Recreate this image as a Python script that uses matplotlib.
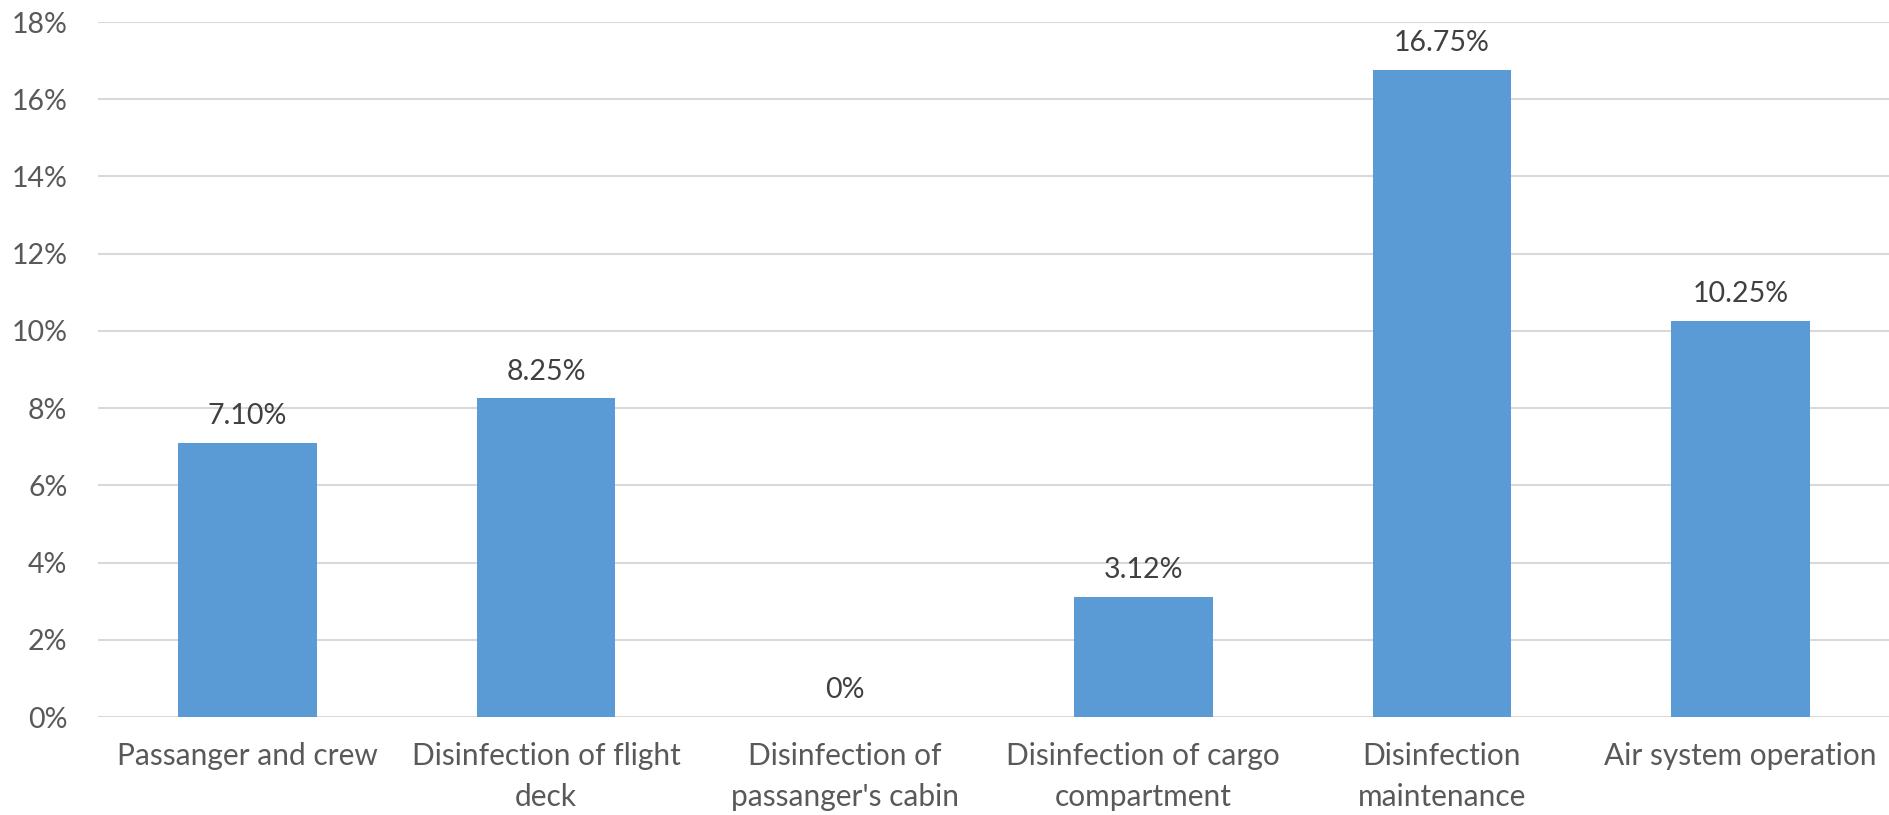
import matplotlib.pyplot as plt
import numpy as np

categories = [
    "Passanger and crew",
    "Disinfection of flight\ndeck",
    "Disinfection of\npassanger's cabin",
    "Disinfection of cargo\ncompartment",
    "Disinfection\nmaintenance",
    "Air system operation",
]
values = [7.10, 8.25, 0.0, 3.12, 16.75, 10.25]
yticks = np.arange(0, 19, 2)

plt.rcParams['font.family'] = ['Lato', 'DejaVu Sans']

fig = plt.figure(figsize=(18.9, 8.15), dpi=100)
ax = fig.add_axes([98 / 1890, 1 - 717 / 815, 1 - 98 / 1890, (717 - 22) / 815])

x = np.arange(len(categories))
bars = ax.bar(x, values, width=0.465, color='#5b9bd5', zorder=2)

for b, v in zip(bars, values):
    label = "0%" if v == 0 else f"{v:.2f}%"
    ax.annotate(label, (b.get_x() + b.get_width() / 2, v), xytext=(0, 10),
                textcoords='offset points', ha='center', va='bottom',
                fontsize=20.5, color='#404040')

ax.set_xlim(-0.5, len(categories) - 0.5)
ax.set_ylim(0, 18)
ax.set_yticks(yticks)
ax.set_yticklabels([f"{t}%" for t in yticks])
ax.set_xticks(x)
ax.set_xticklabels(categories, linespacing=1.55)
ax.tick_params(axis='y', length=0, pad=22, labelsize=20.5, labelcolor='#595959')
ax.tick_params(axis='x', length=0, pad=18, labelsize=21.5, labelcolor='#595959')

ax.grid(axis='y', color='#d9d9d9', linewidth=1.5, zorder=0)
for s in ax.spines.values():
    s.set_visible(False)

fig.savefig('out.png', dpi=100)
